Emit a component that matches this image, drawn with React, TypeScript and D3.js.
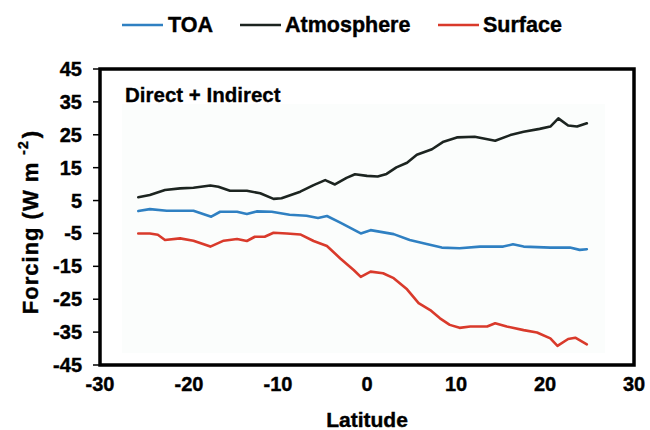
import React from "react";
import * as d3 from "d3";

const xTicks = [-30, -20, -10, 0, 10, 20, 30];
const yTicks = [45, 35, 25, 15, 5, -5, -15, -25, -35, -45];

const seriesNames = ["TOA", "Atmosphere", "Surface"];
const seriesColors = ["#2f80c2", "#1c2420", "#d93a2b"];

const atmosphere: [number, number][] = [
  [-25.7, 6.0], [-24.4, 6.7], [-22.7, 8.2], [-21, 8.7], [-19.5, 8.9], [-17.6, 9.6],
  [-16.7, 9.2], [-15.4, 8.0], [-13.5, 8.0], [-12, 7.2], [-10.5, 5.5], [-9.6, 5.7],
  [-7.5, 7.7], [-6, 9.7], [-4.7, 11.2], [-3.6, 9.9], [-2.3, 11.9], [-1.35, 13.0],
  [0, 12.5], [1.2, 12.3], [2.2, 13.1], [3.3, 15.1], [4.5, 16.5], [5.6, 18.9],
  [7.3, 20.6], [8.6, 22.9], [10.1, 24.2], [12.1, 24.4], [14.4, 23.2], [16.1, 24.9],
  [17.6, 25.9], [19.4, 26.8], [20.6, 27.5], [21.5, 30.0], [22.6, 27.8], [23.6, 27.5],
  [24.7, 28.5],
];

const toa: [number, number][] = [
  [-25.7, 1.8], [-24.4, 2.4], [-22.5, 1.9], [-19.5, 1.9], [-17.5, 0.1], [-16.5, 1.6],
  [-14.6, 1.6], [-13.5, 0.9], [-12.4, 1.7], [-10.7, 1.6], [-8.7, 0.7], [-6.8, 0.4],
  [-5.5, -0.3], [-4.5, 0.3], [-3, -1.7], [-0.7, -5.0], [0.4, -4.0], [3, -5.2],
  [4.8, -7.0], [6.7, -8.2], [8.4, -9.3], [10.4, -9.5], [12.7, -9.0], [15.3, -9.0],
  [16.4, -8.3], [17.6, -9.0], [20.6, -9.3], [22.8, -9.3], [23.9, -10.0], [24.7, -9.8],
];

const surface: [number, number][] = [
  [-25.7, -5.0], [-24.4, -5.0], [-23.5, -5.4], [-22.7, -7.0], [-21, -6.5], [-19.5, -7.2],
  [-17.6, -9.0], [-16.1, -7.2], [-14.6, -6.7], [-13.5, -7.3], [-12.6, -6.0], [-11.5, -6.0],
  [-10.5, -4.8], [-9, -5.0], [-7.5, -5.3], [-6, -7.3], [-4.5, -8.8], [-3, -12.6],
  [-1.5, -16.1], [-0.7, -18.2], [0.4, -16.6], [1.8, -17.1], [3, -18.6], [4.5, -22.0],
  [5.8, -26.2], [7.1, -28.3], [8.2, -30.8], [9.3, -32.8], [10.4, -33.7], [11.6, -33.3],
  [13.5, -33.3], [14.4, -32.3], [15.7, -33.3], [17.6, -34.4], [19.1, -35.1], [20.6, -36.9],
  [21.4, -39.2], [22.6, -37.1], [23.4, -36.7], [24.7, -38.7],
];

const seriesData = [toa, atmosphere, surface];

const FONT = "'Liberation Sans', Arial, Helvetica, sans-serif";

export default function App() {
  const W = 650;
  const H = 430;
  const left = 100, right = 634, top = 69, bottom = 365;

  const x = d3.scaleLinear().domain([-30, 30]).range([left, right]);
  const y = d3.scaleLinear().domain([-45, 45]).range([bottom, top]);

  const line = d3
    .line<[number, number]>()
    .x((d) => x(d[0]))
    .y((d) => y(d[1]))
    .curve(d3.curveLinear);

  const legendItems = [
    { lx: 122, tx: 168 },
    { lx: 240, tx: 285 },
    { lx: 438, tx: 483 },
  ];

  return (
    <svg
      width={W}
      height={H}
      style={{ position: "absolute", left: 0, top: 0, background: "#fff" }}
      fontFamily={FONT}
    >
      <rect x={0} y={0} width={W} height={H} fill="#fff" />
      {/* faint inner panel */}
      <rect x={122} y={104} width={483} height={249} fill="#fbfdfc" />

      {/* legend */}
      {seriesNames.map((name, i) => (
        <g key={name}>
          <line
            x1={legendItems[i].lx}
            x2={legendItems[i].lx + 41}
            y1={25}
            y2={25}
            stroke={seriesColors[i]}
            strokeWidth={2.5}
          />
          <text
            x={legendItems[i].tx}
            y={32}
            fontSize={21.5}
            fontWeight="bold"
            fill="#000"
            stroke="#000"
            strokeWidth={0.4}
          >
            {name}
          </text>
        </g>
      ))}

      {/* series lines */}
      {seriesData.map((d, i) => (
        <path
          key={i}
          d={line(d) || ""}
          fill="none"
          stroke={seriesColors[i]}
          strokeWidth={2.6}
          strokeLinejoin="round"
          strokeLinecap="round"
        />
      ))}

      {/* frame */}
      <rect
        x={left}
        y={top}
        width={right - left}
        height={bottom - top}
        fill="none"
        stroke="#000"
        strokeWidth={3.5}
      />

      {/* y ticks */}
      {yTicks.map((t) => (
        <g key={t}>
          <line x1={left - 7} x2={left} y1={y(t)} y2={y(t)} stroke="#000" strokeWidth={1.5} />
          <text
            x={82}
            y={y(t) + 7}
            textAnchor="end"
            fontSize={20}
            fontWeight="bold"
            fill="#000"
            stroke="#000"
            strokeWidth={0.4}
          >
            {t}
          </text>
        </g>
      ))}

      {/* x ticks */}
      {xTicks.map((t) => (
        <text
          key={t}
          x={x(t)}
          y={391}
          textAnchor="middle"
          fontSize={20}
          fontWeight="bold"
          fill="#000"
          stroke="#000"
          strokeWidth={0.4}
        >
          {t}
        </text>
      ))}

      {/* annotation */}
      <text
        x={125}
        y={102}
        fontSize={20.5}
        fontWeight="bold"
        fill="#000"
        stroke="#000"
        strokeWidth={0.3}
      >
        Direct + Indirect
      </text>

      {/* axis titles */}
      <text
        x={x(0)}
        y={427}
        textAnchor="middle"
        fontSize={21}
        fontWeight="bold"
        fill="#000"
        stroke="#000"
        strokeWidth={0.4}
      >
        Latitude
      </text>
      <text
        transform="translate(38,222) rotate(-90)"
        textAnchor="middle"
        fontSize={22}
        fontWeight="bold"
        letterSpacing={1}
        fill="#000"
        stroke="#000"
        strokeWidth={0.4}
      >
        Forcing (W m
        <tspan fontSize={14} dx={7} dy={-10}>-2</tspan>
        <tspan dx={2} dy={10}>)</tspan>
      </text>
    </svg>
  );
}
